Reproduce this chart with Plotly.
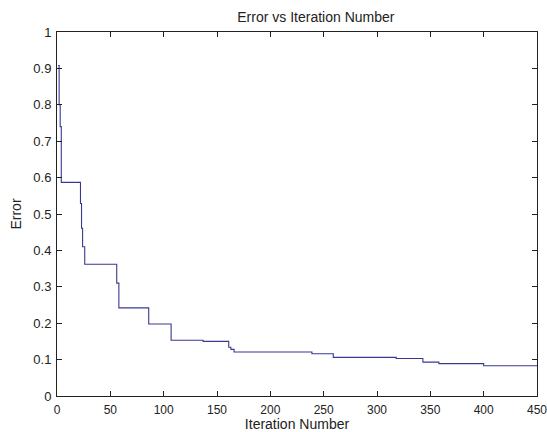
import plotly.graph_objects as go

# Iterations at which the best error changes, and the error from that point on
iterations = [1, 2, 3, 4, 22, 23, 24, 26, 56, 58, 86, 107, 137, 161, 163, 166,
              239, 259, 318, 343, 358, 400, 450]
error = [0.908, 0.80, 0.74, 0.587, 0.529, 0.461, 0.41, 0.362, 0.31, 0.242, 0.198,
         0.153, 0.150, 0.134, 0.128, 0.121, 0.116, 0.106, 0.103, 0.093, 0.089,
         0.083, 0.083]

x_ticks = [0, 50, 100, 150, 200, 250, 300, 350, 400, 450]
y_ticks = [0, 0.1, 0.2, 0.3, 0.4, 0.5, 0.6, 0.7, 0.8, 0.9, 1]
y_tick_text = ["0", "0.1", "0.2", "0.3", "0.4", "0.5", "0.6", "0.7", "0.8", "0.9", "1"]

family = "Liberation Sans, Arial, sans-serif"
tick_font = dict(family=family, size=13, color="#222222")
x_tick_font = dict(family=family, size=12, color="#222222")
label_font = dict(family=family, size=14, color="#222222")

fig = go.Figure(
    go.Scatter(
        x=iterations,
        y=error,
        mode="lines",
        line=dict(color="#383890", width=1.1, shape="hv"),
        hoverinfo="x+y",
    )
)

axis_common = dict(
    showline=True,
    linecolor="#222222",
    linewidth=1,
    mirror="ticks",
    ticks="inside",
    ticklen=5,
    tickcolor="#222222",
    showgrid=False,
    zeroline=False,
    ticklabeloverflow="allow",
    automargin=False,
)

fig.update_layout(
    width=547,
    height=432,
    margin=dict(l=57, r=10, t=32, b=36),
    paper_bgcolor="white",
    plot_bgcolor="white",
    showlegend=False,
    font=tick_font,
    title=dict(
        text="Error vs Iteration Number",
        x=295 / 547,
        xanchor="center",
        xref="paper",
        y=1 - 17 / 432,
        yanchor="middle",
        font=label_font,
    ),
    xaxis=dict(
        range=[0, 450],
        tickvals=x_ticks,
        tickfont=x_tick_font,
        ticklabelstandoff=3,
        title=dict(text="Iteration Number", standoff=3, font=label_font),
        **axis_common,
    ),
    yaxis=dict(
        range=[0, 1],
        tickvals=y_ticks,
        ticktext=y_tick_text,
        tickfont=tick_font,
        ticklabelstandoff=2,
        title=dict(text="Error", standoff=8, font=label_font),
        **axis_common,
    ),
)

fig.write_html("out.html")
